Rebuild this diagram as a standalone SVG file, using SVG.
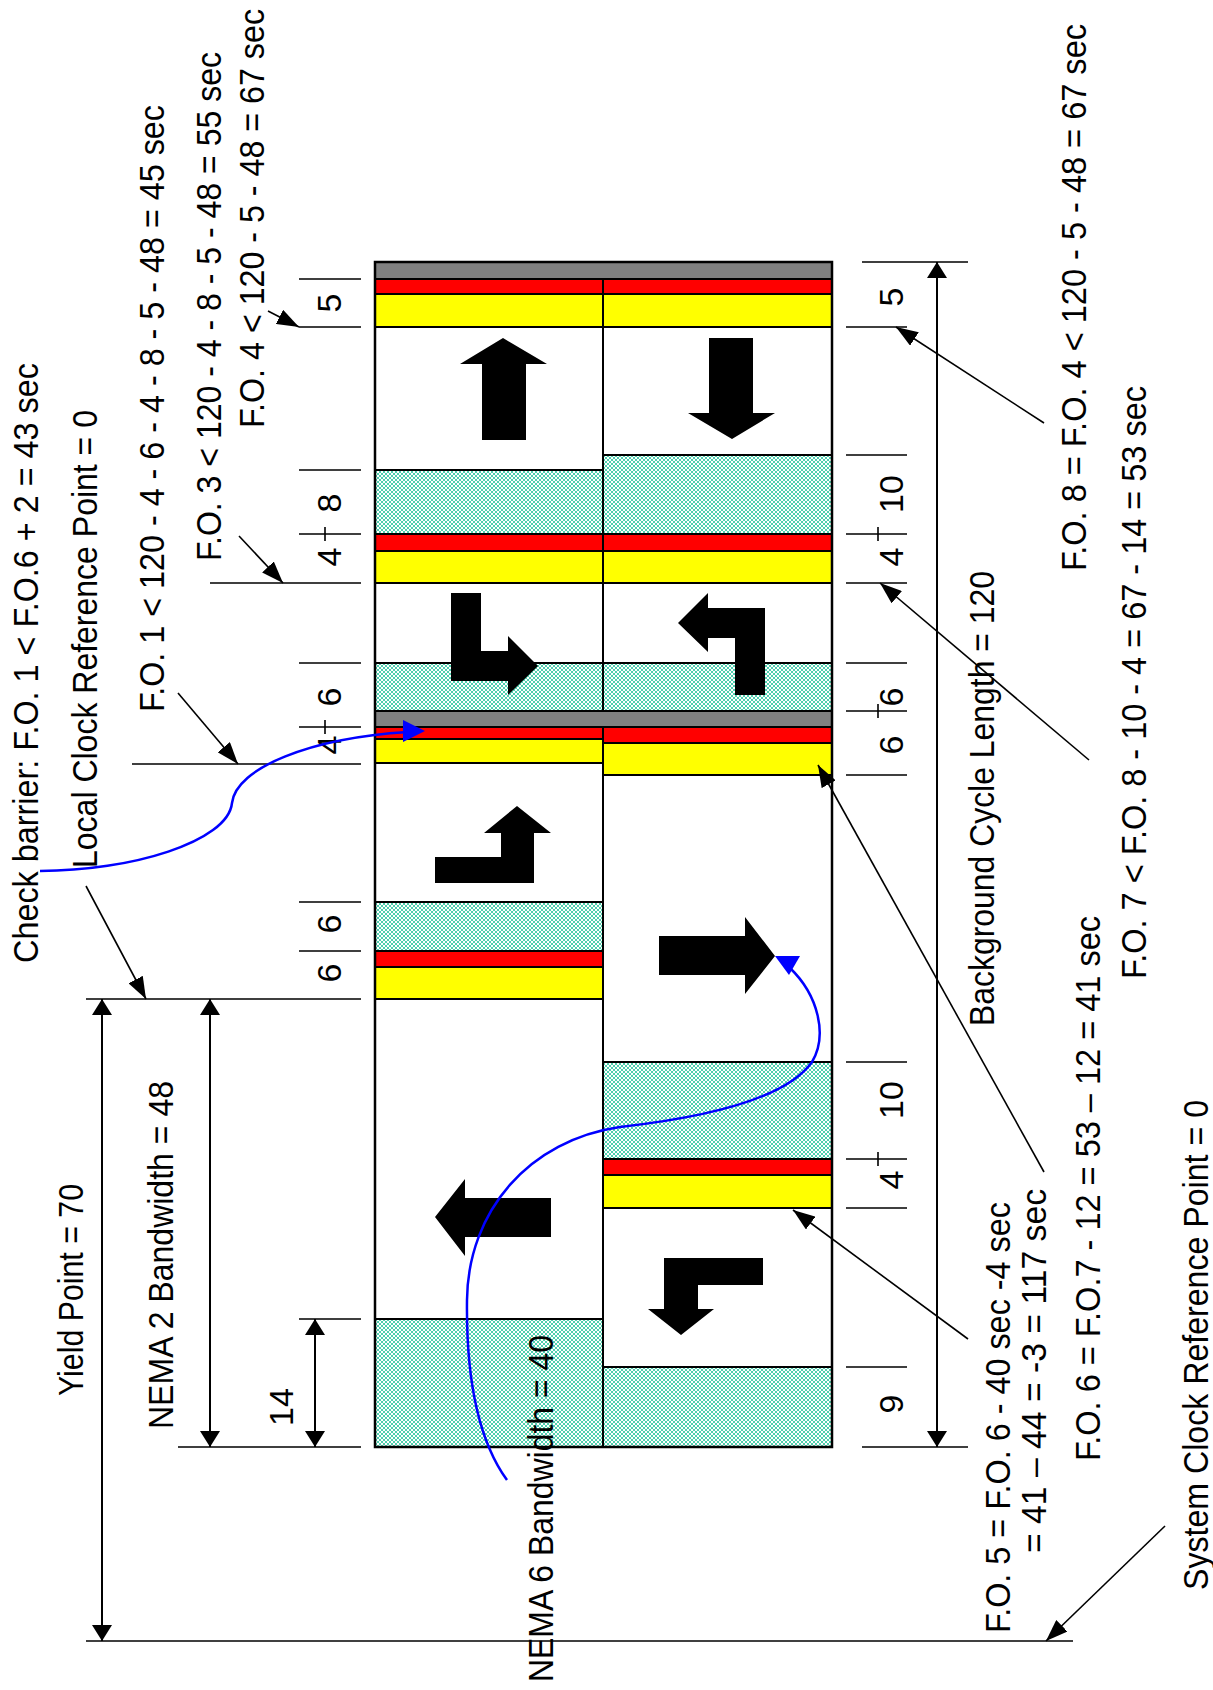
<svg xmlns="http://www.w3.org/2000/svg" width="1213" height="1690" viewBox="0 0 1213 1690">
  <defs>
    <pattern id="hatch" width="4" height="4" patternUnits="userSpaceOnUse">
      <rect width="4" height="4" fill="#ffffff"/>
      <path d="M0 0L4 4M4 0L0 4" stroke="#4fcfae" stroke-width="1"/>
    </pattern>
    <marker id="dim" viewBox="0 0 16 20" refX="16" refY="10" markerWidth="16" markerHeight="20" markerUnits="userSpaceOnUse" orient="auto-start-reverse">
      <path d="M0 0L16 10L0 20z" fill="#000"/>
    </marker>
    <marker id="lead" viewBox="0 0 22 16" refX="22" refY="8" markerWidth="22" markerHeight="16" markerUnits="userSpaceOnUse" orient="auto">
      <path d="M0 0L22 8L0 16z" fill="#000"/>
    </marker>
  </defs>
  <style>
    .t{font-family:"Liberation Sans",Arial,sans-serif;font-size:32px;fill:#000}
    .n{font-family:"Liberation Sans",Arial,sans-serif;font-size:34px;fill:#000;text-anchor:middle}
    .ln{stroke:#000;stroke-width:1.6;fill:none}
    .dim{stroke:#000;stroke-width:2;fill:none;marker-start:url(#dim);marker-end:url(#dim)}
    .lead{stroke:#000;stroke-width:1.6;fill:none;marker-end:url(#lead)}
    .c{stroke:#000;stroke-width:2}
    .g{fill:#808080}
    .r{fill:#ff0000}
    .y{fill:#ffff00}
    .w{fill:#ffffff}
    .h{fill:url(#hatch)}
    .arw{fill:#000}
    .blue{stroke:#0000ff;stroke-width:2.5;fill:none}
    .bh{fill:#0000ff}
  </style>
  <rect width="1213" height="1690" fill="#ffffff"/>

  <!-- phase timeline, left ring (NEMA 1..4 side) -->
  <g id="ring-left">
    <rect class="c r" x="375" y="279" width="228" height="15"/>
    <rect class="c y" x="375" y="294" width="228" height="33"/>
    <rect class="c w" x="375" y="327" width="228" height="143"/>
    <rect class="c h" x="375" y="470" width="228" height="64"/>
    <rect class="c r" x="375" y="534" width="228" height="17"/>
    <rect class="c y" x="375" y="551" width="228" height="32"/>
    <rect class="c w" x="375" y="583" width="228" height="80"/>
    <rect class="c h" x="375" y="663" width="228" height="48"/>
    <rect class="c r" x="375" y="727" width="228" height="12"/>
    <rect class="c y" x="375" y="739" width="228" height="24"/>
    <rect class="c w" x="375" y="763" width="228" height="139"/>
    <rect class="c h" x="375" y="902" width="228" height="49"/>
    <rect class="c r" x="375" y="951" width="228" height="16"/>
    <rect class="c y" x="375" y="967" width="228" height="32"/>
    <rect class="c w" x="375" y="999" width="228" height="320"/>
    <rect class="c h" x="375" y="1319" width="228" height="128"/>
  </g>

  <!-- phase timeline, right ring -->
  <g id="ring-right">
    <rect class="c r" x="603" y="279" width="229" height="15"/>
    <rect class="c y" x="603" y="294" width="229" height="33"/>
    <rect class="c w" x="603" y="327" width="229" height="128"/>
    <rect class="c h" x="603" y="455" width="229" height="79"/>
    <rect class="c r" x="603" y="534" width="229" height="17"/>
    <rect class="c y" x="603" y="551" width="229" height="32"/>
    <rect class="c w" x="603" y="583" width="229" height="80"/>
    <rect class="c h" x="603" y="663" width="229" height="48"/>
    <rect class="c r" x="603" y="727" width="229" height="16"/>
    <rect class="c y" x="603" y="743" width="229" height="32"/>
    <rect class="c w" x="603" y="775" width="229" height="287"/>
    <rect class="c h" x="603" y="1062" width="229" height="97"/>
    <rect class="c r" x="603" y="1159" width="229" height="16"/>
    <rect class="c y" x="603" y="1175" width="229" height="33"/>
    <rect class="c w" x="603" y="1208" width="229" height="159"/>
    <rect class="c h" x="603" y="1367" width="229" height="80"/>
  </g>

  <!-- barrier bands spanning both rings -->
  <g id="barriers">
    <rect class="c g" x="375" y="262" width="457" height="17"/>
    <rect class="c g" x="375" y="711" width="457" height="16"/>
    <rect x="375" y="262" width="457" height="1185" fill="none" stroke="#000" stroke-width="2.5"/>
  </g>

  <!-- movement arrows -->
  <g id="movements">
    <polygon class="arw" points="503,338 547,364 526,364 526,440 482,440 482,364 460,364"/>
    <polygon class="arw" points="709,338 753,338 753,413 775,413 732,439 688,413 709,413"/>
    <polygon class="arw" points="451,593 481,593 481,651 508,651 508,636 538,666 508,695 508,681 451,681"/>
    <polygon class="arw" points="765,608 765,695 735,695 735,638 708,638 708,652 678,623 708,593 708,608"/>
    <polygon class="arw" points="435,857 501,857 501,833 484,833 517,806 551,833 534,833 534,883 435,883"/>
    <polygon class="arw" points="659,936 745,936 745,917 775,956 745,994 745,975 659,975"/>
    <polygon class="arw" points="551,1198 551,1237 465,1237 465,1256 435,1217 465,1179 465,1198"/>
    <polygon class="arw" points="664,1258 763,1258 763,1285 698,1285 698,1309 714,1309 681,1335 648,1309 664,1309"/>
  </g>

  <!-- interval ticks -->
  <g id="ticks">
    <path class="ln" d="M299 279H361M299 327H361M299 470H361M299 534H361M210 583H361M299 663H361M299 727H361M132 764H361M299 902H361M299 951H361M86 999H361M299 1319H361M178 1447H361"/>
    <path class="ln" d="M325 527V541M325 720V734"/>
    <path class="ln" d="M862 262H968M846 327H907M846 455H907M846 534H907M846 583H907M846 663H907M846 711H907M846 775H907M846 1062H907M846 1159H907M846 1208H907M846 1367H907M862 1447H968"/>
    <path class="ln" d="M878 527V541M878 704V718M878 1152V1166"/>
    <path class="ln" d="M86 1641H1073"/>
  </g>

  <!-- interval values -->
  <g id="tick-labels">
    <text class="n" transform="translate(341,303) rotate(-90)">5</text>
    <text class="n" transform="translate(341,503) rotate(-90)">8</text>
    <text class="n" transform="translate(341,557) rotate(-90)">4</text>
    <text class="n" transform="translate(341,697) rotate(-90)">6</text>
    <text class="n" transform="translate(341,745) rotate(-90)">4</text>
    <text class="n" transform="translate(341,924) rotate(-90)">6</text>
    <text class="n" transform="translate(341,973) rotate(-90)">6</text>
    <text class="n" transform="translate(293,1407) rotate(-90)">14</text>
    <text class="n" transform="translate(903,297) rotate(-90)">5</text>
    <text class="n" transform="translate(903,494) rotate(-90)">10</text>
    <text class="n" transform="translate(903,557) rotate(-90)">4</text>
    <text class="n" transform="translate(903,697) rotate(-90)">6</text>
    <text class="n" transform="translate(903,745) rotate(-90)">6</text>
    <text class="n" transform="translate(903,1100) rotate(-90)">10</text>
    <text class="n" transform="translate(903,1180) rotate(-90)">4</text>
    <text class="n" transform="translate(903,1404) rotate(-90)">9</text>
  </g>

  <!-- dimension arrows and leaders -->
  <g id="connectors">
    <line class="dim" x1="102" y1="999" x2="102" y2="1641"/>
    <line class="dim" x1="210" y1="999" x2="210" y2="1447"/>
    <line class="dim" x1="315" y1="1319" x2="315" y2="1447"/>
    <line class="dim" x1="937" y1="262" x2="937" y2="1447"/>
    <line class="lead" x1="268" y1="311" x2="299" y2="327"/>
    <line class="lead" x1="239" y1="536" x2="283" y2="583"/>
    <line class="lead" x1="178" y1="693" x2="238" y2="764"/>
    <line class="lead" x1="86" y1="886" x2="146" y2="999"/>
    <line class="lead" x1="1044" y1="423" x2="896" y2="327"/>
    <line class="lead" x1="1089" y1="760" x2="880" y2="583"/>
    <line class="lead" x1="1044" y1="1172" x2="818" y2="765"/>
    <line class="lead" x1="968" y1="1339" x2="793" y2="1210"/>
    <line class="lead" x1="1165" y1="1526" x2="1046" y2="1641"/>
  </g>

  <!-- annotations (rotated, slightly tall glyphs) -->
  <g id="annotations">
    <text class="t" transform="translate(38,963) rotate(-90) scale(1,1.09)" textLength="600" lengthAdjust="spacingAndGlyphs">Check barrier: F.O. 1 &lt; F.O.6 + 2 = 43 sec</text>
    <text class="t" transform="translate(97,868) rotate(-90) scale(1,1.09)" textLength="458" lengthAdjust="spacingAndGlyphs">Local Clock Reference Point = 0</text>
    <text class="t" transform="translate(164,712) rotate(-90) scale(1,1.09)" textLength="607" lengthAdjust="spacingAndGlyphs">F.O. 1 &lt; 120 - 4 - 6 - 4 - 8 - 5 - 48 = 45 sec</text>
    <text class="t" transform="translate(221,561) rotate(-90) scale(1,1.09)" textLength="509" lengthAdjust="spacingAndGlyphs">F.O. 3 &lt; 120 - 4 - 8 - 5 - 48 = 55 sec</text>
    <text class="t" transform="translate(264,428) rotate(-90) scale(1,1.09)" textLength="419" lengthAdjust="spacingAndGlyphs">F.O. 4 &lt; 120 - 5 - 48 = 67 sec</text>
    <text class="t" transform="translate(83,1396) rotate(-90) scale(1,1.09)" textLength="212" lengthAdjust="spacingAndGlyphs">Yield Point = 70</text>
    <text class="t" transform="translate(173,1429) rotate(-90) scale(1,1.09)" textLength="348" lengthAdjust="spacingAndGlyphs">NEMA 2 Bandwidth = 48</text>
    <text class="t" transform="translate(553,1682) rotate(-90) scale(1,1.09)" textLength="347" lengthAdjust="spacingAndGlyphs">NEMA 6 Bandwidth = 40</text>
    <text class="t" transform="translate(994,1026) rotate(-90) scale(1,1.09)" textLength="455" lengthAdjust="spacingAndGlyphs">Background Cycle Length = 120</text>
    <text class="t" transform="translate(1010,1633) rotate(-90) scale(1,1.09)" textLength="431" lengthAdjust="spacingAndGlyphs">F.O. 5 = F.O. 6 - 40 sec -4 sec</text>
    <text class="t" transform="translate(1046,1553) rotate(-90) scale(1,1.09)" textLength="364" lengthAdjust="spacingAndGlyphs">= 41 – 44 = -3 = 117 sec</text>
    <text class="t" transform="translate(1100,1461) rotate(-90) scale(1,1.09)" textLength="545" lengthAdjust="spacingAndGlyphs">F.O. 6 = F.O.7 - 12 = 53 – 12 = 41 sec</text>
    <text class="t" transform="translate(1146,979) rotate(-90) scale(1,1.09)" textLength="593" lengthAdjust="spacingAndGlyphs">F.O. 7 &lt; F.O. 8 - 10 - 4 = 67 - 14 = 53 sec</text>
    <text class="t" transform="translate(1086,571) rotate(-90) scale(1,1.09)" textLength="547" lengthAdjust="spacingAndGlyphs">F.O. 8 = F.O. 4 &lt; 120 - 5 - 48 = 67 sec</text>
    <text class="t" transform="translate(1208,1590) rotate(-90) scale(1,1.09)" textLength="490" lengthAdjust="spacingAndGlyphs">System Clock Reference Point = 0</text>
  </g>

  <!-- blue callout curves -->
  <g id="callouts">
    <path class="blue" d="M40,871 C130,871 228,842 232,803 C236,768 310,738 408,732"/>
    <polygon class="bh" points="425,731 403,720 403,742"/>
    <path class="blue" d="M507,1480 C478,1440 466,1380 467,1300 C468,1210 530,1140 620,1127 C700,1118 785,1100 812,1062 C828,1035 818,995 790,968"/>
    <polygon class="bh" points="775,956 800,956 789,975"/>
  </g>
</svg>
